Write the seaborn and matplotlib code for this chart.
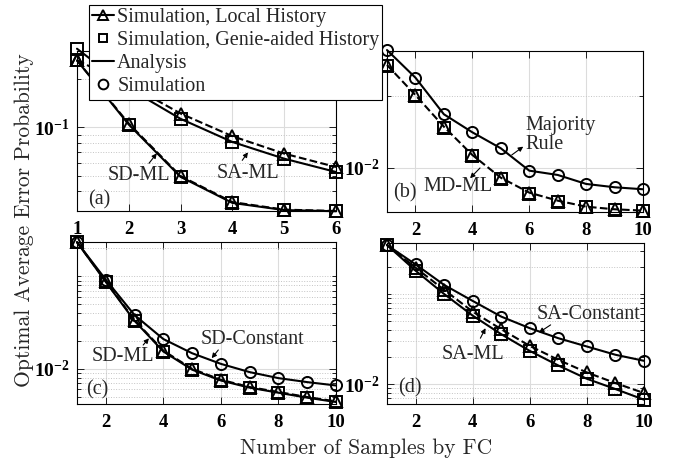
import numpy as np
import pandas as pd
import matplotlib
matplotlib.use("Agg")
import matplotlib.pyplot as plt
import seaborn as sns
from matplotlib.ticker import FixedLocator, NullFormatter
from matplotlib.lines import Line2D

sns.set_style("ticks")
plt.rcParams['font.family'] = ['Liberation Serif', 'DejaVu Serif']
plt.rcParams['mathtext.fontset'] = 'custom'
plt.rcParams['mathtext.rm'] = 'Liberation Serif'
plt.rcParams['mathtext.bf'] = 'Liberation Serif:bold'

# ---- data ----
x6 = [1, 2, 3, 4, 5, 6]
x10 = [1, 2, 3, 4, 5, 6, 7, 8, 9, 10]

# (a) SD-ML / SA-ML
a_sd_local = [0.262, 0.1055, 0.0496, 0.0341, 0.0306, 0.0300]
a_sd_genie = [0.262, 0.1040, 0.0490, 0.0337, 0.0304, 0.0299]
a_sa_local = [0.262, 0.185, 0.122, 0.088, 0.0685, 0.0565]
a_sa_genie = [0.310, 0.175, 0.113, 0.081, 0.0637, 0.0526]

# (b) MD-ML / Majority Rule
b_md_local = [0.267, 0.102, 0.0371, 0.0150, 0.00726, 0.00450, 0.00348, 0.00287, 0.00264, 0.00253]
b_md_genie = [0.258, 0.098, 0.0356, 0.0144, 0.00700, 0.00435, 0.00338, 0.00280, 0.00258, 0.00248]
b_majority = [0.431, 0.178, 0.0552, 0.0310, 0.0186, 0.00909, 0.00792, 0.00594, 0.00534, 0.00501]

# (c) SD-ML / SD-Constant
c_sd_local = [0.234, 0.0883, 0.0336, 0.01574, 0.0100, 0.00762, 0.00636, 0.00562, 0.00496, 0.00445]
c_sd_genie = [0.234, 0.0870, 0.0330, 0.0154, 0.0098, 0.00748, 0.00626, 0.00552, 0.00488, 0.00438]
c_constant = [0.234, 0.0921, 0.0381, 0.0210, 0.01475, 0.01132, 0.00922, 0.00794, 0.00719, 0.00661]

# (d) SA-ML / SA-Constant
d_sa_local = [0.353, 0.1975, 0.112, 0.0641, 0.0408, 0.0266, 0.0186, 0.01346, 0.01026, 0.00794]
d_sa_genie = [0.353, 0.183, 0.1007, 0.0578, 0.0359, 0.0234, 0.0161, 0.01145, 0.0088, 0.0067]
d_constant = [0.353, 0.215, 0.127, 0.0843, 0.0564, 0.0419, 0.0324, 0.0262, 0.0212, 0.01815]

W, H = 678, 466
fig = plt.figure(figsize=(W / 100, H / 100), dpi=100)


def make_ax(l, r, t, b):
    return fig.add_axes([l / W, 1 - b / H, (r - l) / W, (b - t) / H])


LW = 1.5
MS = 8
MEW = 1.4


def curve(ax, x, y, ls='-', marker=None):
    df = pd.DataFrame({'x': x, 'y': y})
    kw = dict(color='k', lw=LW, linestyle=ls, clip_on=False)
    if marker:
        kw.update(marker=marker, ms=MS, mfc='none', mec='k', mew=MEW)
    sns.lineplot(data=df, x='x', y='y', ax=ax, estimator=None, sort=False, **kw)


def style(ax, xlim, xticks, ylim, ymajor, ylabel, yminor):
    ax.set_yscale('log')
    ax.set_xlim(*xlim)
    ax.set_ylim(*ylim)
    ax.set_xticks(xticks)
    ax.set_xticklabels([str(v) for v in xticks], fontweight='bold', fontsize=13.5)
    ax.yaxis.set_major_locator(FixedLocator([ymajor]))
    ax.set_yticklabels([ylabel], fontsize=14)
    ax.yaxis.set_minor_locator(FixedLocator(yminor))
    ax.yaxis.set_minor_formatter(NullFormatter())
    ax.set_xlabel('')
    ax.set_ylabel('')
    ax.grid(which='major', color='#dcdcdc', lw=0.8, ls='-')
    ax.grid(which='minor', axis='y', color='#c4c4c4', lw=0.7, ls=':')
    ax.set_axisbelow(True)
    ax.tick_params(which='both', direction='in', top=True, right=True,
                   width=0.6, colors='k')
    ax.tick_params(which='major', length=5)
    ax.tick_params(which='minor', length=3)
    ax.tick_params(axis='x', pad=7)
    ax.tick_params(axis='y', pad=5)
    for s in ax.spines.values():
        s.set_linewidth(0.8)
        s.set_color('k')


def note(ax, text, xy, **kw):
    ax.text(xy[0], xy[1], text, fontsize=14.5, va='center', **kw)


def arrow(ax, head, tail):
    ax.annotate('', xy=head, xytext=tail,
                arrowprops=dict(arrowstyle='-|>', color='k', lw=0.8,
                                mutation_scale=7, shrinkA=0, shrinkB=0))


all_minor = [k * 10.0 ** e for e in (-3, -2, -1) for k in range(1, 10)]

# ---- (a) ----
ax = make_ax(77, 336, 51, 211)
curve(ax, x6, a_sd_genie, '-')
curve(ax, x6, a_sd_local, '--', '^')
curve(ax, x6, a_sd_genie, '', 's')
curve(ax, x6, a_sa_genie, '-')
curve(ax, x6, a_sa_local, '--', '^')
curve(ax, x6, a_sa_genie, '', 's')
style(ax, (1, 6), x6, (0.03, 0.3), 0.1, r'$\mathbf{10^{-1}}$',
      [v for v in all_minor if abs(v - 0.1) > 1e-9])
note(ax, 'SD-ML', (2.2, 0.0501), ha='center')
arrow(ax, (2.54, 0.0688), (2.39, 0.0596))
note(ax, 'SA-ML', (4.30, 0.0516), ha='center')
arrow(ax, (4.30, 0.0698), (4.19, 0.0622))
note(ax, '(a)', (1.21, 0.035), ha='left')

# ---- (b) ----
ax = make_ax(387, 643, 51, 212)
curve(ax, x10, b_majority, '-', 'o')
curve(ax, x10, b_md_local, '--', '^')
curve(ax, x10, b_md_genie, '', 's')
style(ax, (1, 10), [2, 4, 6, 8, 10], (0.00242, 0.418), 0.01, r'$\mathbf{10^{-2}}$',
      [1e-3, 1e-1, 1.0])
ax.text(5.85, 0.028, 'Majority\nRule', fontsize=14.5, va='center', ha='left',
        linespacing=1.0)
arrow(ax, (5.79, 0.0196), (5.385, 0.015))
note(ax, 'MD-ML', (3.51, 0.0054), ha='center')
arrow(ax, (3.92, 0.00713), (4.27, 0.0099))
note(ax, '(b)', (1.21, 0.0044), ha='left')

# ---- (c) ----
ax = make_ax(77, 336, 242, 404)
curve(ax, x10, c_constant, '-', 'o')
curve(ax, x10, c_sd_genie, '-')
curve(ax, x10, c_sd_local, '--', '^')
curve(ax, x10, c_sd_genie, '', 's')
style(ax, (1, 10), [2, 4, 6, 8, 10], (0.00417, 0.235), 0.01, r'$\mathbf{10^{-2}}$',
      [v for v in all_minor if abs(v - 0.01) > 1e-9])
note(ax, 'SD-Constant', (7.10, 0.0209), ha='center')
arrow(ax, (5.68, 0.01303), (5.91, 0.016))
note(ax, 'SD-ML', (2.61, 0.01356), ha='center')
arrow(ax, (3.50, 0.0214), (3.30, 0.0181))
note(ax, '(c)', (1.31, 0.00594), ha='left')

# ---- (d) ----
ax = make_ax(387, 644, 243, 404)
curve(ax, x10, d_constant, '-', 'o')
curve(ax, x10, d_sa_genie, '-')
curve(ax, x10, d_sa_local, '--', '^')
curve(ax, x10, d_sa_genie, '', 's')
style(ax, (1, 10), [2, 4, 6, 8, 10], (0.0060, 0.372), 0.01, r'$\mathbf{10^{-2}}$',
      [v for v in all_minor if abs(v - 0.01) > 1e-9])
note(ax, 'SA-Constant', (8.07, 0.0589), ha='center')
arrow(ax, (6.32, 0.0374), (6.73, 0.0456))
note(ax, 'SA-ML', (4.01, 0.0212), ha='center')
arrow(ax, (4.45, 0.0419), (4.27, 0.0324))
note(ax, '(d)', (1.40, 0.0090), ha='left')

# ---- legend ----
LMS = 7
handles = [
    Line2D([], [], color='k', lw=LW, marker='^', ms=LMS, mfc='none', mew=MEW),
    Line2D([], [], color='k', lw=0, marker='s', ms=LMS - 1, mfc='none', mew=MEW),
    Line2D([], [], color='k', lw=LW),
    Line2D([], [], color='k', lw=0, marker='o', ms=LMS, mfc='none', mew=MEW),
]
labels = ['Simulation, Local History', 'Simulation, Genie-aided History',
          'Analysis', 'Simulation']
leg = fig.legend(handles, labels, loc='upper left', bbox_to_anchor=(89 / W, 1 - 5 / H),
                 fontsize=14.5, frameon=True, fancybox=False, edgecolor='k',
                 framealpha=1, borderaxespad=0, borderpad=0.15, labelspacing=0.2,
                 handlelength=1.1, handletextpad=0.15)
leg.get_frame().set_linewidth(0.8)

# ---- shared axis labels ----
fig.text(24 / W, 1 - 220 / H, 'Optimal Average Error Probability', rotation=90,
         ha='center', va='center', fontsize=15.5, family='cmr10')
fig.text(366 / W, 1 - 448 / H, 'Number of Samples by FC', ha='center',
         va='center', fontsize=15.5, family='cmr10')

fig.savefig('out.png', dpi=100)
